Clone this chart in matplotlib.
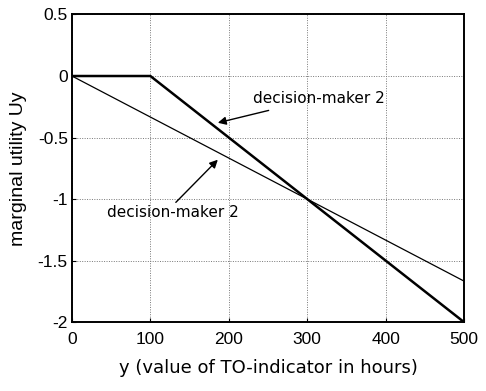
import numpy as np
import matplotlib.pyplot as plt

# marginal utility curves (breakpoints)
y_dm1 = [0, 100, 500]
u_dm1 = [0, 0, -2]
y_dm2 = [0, 500]
u_dm2 = [0, -5 / 3]

xticks = [0, 100, 200, 300, 400, 500]
yticks = [-2, -1.5, -1, -0.5, 0, 0.5]
ytick_labels = ["-2", "-1.5", "-1", "-0.5", "0", "0.5"]

plt.rcParams['font.family'] = ['Liberation Sans', 'DejaVu Sans']

fig = plt.figure(figsize=(4.86, 3.91), dpi=100)
ax = fig.add_axes([0.148, 0.176, 0.807, 0.787])

ax.plot(y_dm2, u_dm2, color='black', lw=0.9)
ax.plot(y_dm1, u_dm1, color='black', lw=1.8)

ax.set_xlim(0, 500)
ax.set_ylim(-2, 0.5)
ax.set_xticks(xticks)
ax.set_yticks(yticks)
ax.set_yticklabels(ytick_labels)
ax.grid(True, color='#777777', ls=(0, (1, 1.5)), lw=0.7)
ax.tick_params(direction='in', length=3, labelsize=12.5)
ax.tick_params(axis='x', pad=7)
ax.tick_params(axis='y', pad=3)
for s in ax.spines.values():
    s.set_linewidth(1.4)

ax.annotate("decision-maker 2", xy=(186, -0.38), xytext=(231, -0.18),
            fontsize=11, family='DejaVu Sans', va='center', ha='left',
            arrowprops=dict(arrowstyle='-|>', color='black', lw=1.0,
                            shrinkA=6, shrinkB=0, mutation_scale=12))
ax.annotate("decision-maker 2", xy=(186, -0.68), xytext=(45, -1.11),
            fontsize=11, family='DejaVu Sans', va='center', ha='left',
            arrowprops=dict(arrowstyle='-|>', color='black', lw=1.0,
                            shrinkA=0, shrinkB=0, mutation_scale=12,
                            relpos=(0.5, 1.0)))

ax.set_xlabel("y (value of TO-indicator in hours)", family='DejaVu Sans',
              fontsize=13, labelpad=9)
ax.set_ylabel("marginal utility Uy", fontsize=14, labelpad=8)

fig.savefig("out.png", dpi=100)
